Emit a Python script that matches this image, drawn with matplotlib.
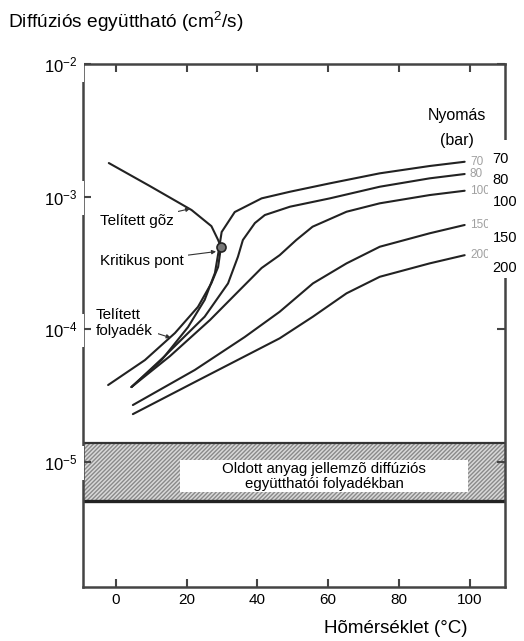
import matplotlib
matplotlib.use("Agg")
import matplotlib.pyplot as plt
from matplotlib.ticker import FixedLocator, NullLocator, LogFormatterSciNotation
from matplotlib.patches import Rectangle

plt.rcParams["font.family"] = ["Liberation Sans", "DejaVu Sans"]
plt.rcParams["mathtext.default"] = "regular"

# Saturation line of CO2 (temperature in °C, diffusivity in cm^2/s)
vapor_t = [-2.0, 9.6, 21.4, 27.0, 28.9, 29.7]
vapor_d = [1.79e-3, 1.20e-3, 7.91e-4, 5.98e-4, 4.70e-4, 4.16e-4]
liquid_t = [29.7, 28.9, 27.0, 23.2, 16.7, 8.2, -2.2]
liquid_d = [4.16e-4, 2.94e-4, 2.22e-4, 1.47e-4, 9.33e-5, 5.83e-5, 3.78e-5]
critical_t = 29.7
critical_d = 4.16e-4

# Isobars
p70_t = [4.4, 12.9, 20.4, 25.1, 28.0, 29.1, 29.9, 33.6, 41.2, 49.2, 60.5, 74.6, 88.7, 98.6]
p70_d = [3.65e-5, 5.83e-5, 1.035e-4, 1.66e-4, 2.65e-4, 3.95e-4, 5.40e-4, 7.64e-4,
         9.69e-4, 1.087e-3, 1.258e-3, 1.497e-3, 1.70e-3, 1.83e-3]
p80_t = [4.4, 13.8, 25.1, 31.7, 34.5, 35.9, 39.3, 42.1, 49.2, 60.5, 74.6, 88.7, 98.6]
p80_d = [3.65e-5, 6.25e-5, 1.24e-4, 2.21e-4, 3.51e-4, 4.70e-4, 6.31e-4, 7.25e-4,
         8.38e-4, 9.69e-4, 1.186e-3, 1.372e-3, 1.479e-3]
p100_t = [4.4, 15.3, 26.6, 35.0, 41.2, 46.3, 51.0, 55.6, 65.2, 74.6, 88.7, 98.6]
p100_d = [3.65e-5, 6.25e-5, 1.17e-4, 1.97e-4, 2.89e-4, 3.61e-4, 4.70e-4, 5.92e-4,
          7.68e-4, 8.89e-4, 1.026e-3, 1.106e-3]
p150_t = [4.8, 22.3, 36.4, 46.3, 55.7, 65.2, 74.6, 88.7, 98.6]
p150_d = [2.67e-5, 4.91e-5, 8.70e-5, 1.35e-4, 2.21e-4, 3.13e-4, 4.18e-4, 5.28e-4, 6.10e-4]
p200_t = [4.8, 22.3, 46.3, 55.7, 65.2, 74.6, 88.7, 98.6]
p200_d = [2.28e-5, 3.98e-5, 8.51e-5, 1.24e-4, 1.86e-4, 2.48e-4, 3.13e-4, 3.61e-4]

pressures = ["70", "80", "100", "150", "200"]
isobars = [(p70_t, p70_d), (p80_t, p80_d), (p100_t, p100_d), (p150_t, p150_d), (p200_t, p200_d)]

# Typical range of solute diffusivities in liquids
liquid_band = (5.04e-6, 1.38e-5)

x_ticks = [0, 20, 40, 60, 80, 100]
y_ticks = [1e-5, 1e-4, 1e-3, 1e-2]

fig = plt.figure(figsize=(5.24, 6.41), dpi=100)
ax = fig.add_axes([0.1584, 0.0842, 0.8053, 0.8159])
ax.set_yscale("log")
ax.set_xlim(-9.3, 110)
ax.set_ylim(1.13e-6, 1e-2)

line_kw = dict(color="#222222", lw=1.5, solid_capstyle="round", solid_joinstyle="round")
ax.plot(vapor_t, vapor_d, **line_kw)
ax.plot(liquid_t, liquid_d, **line_kw)
for t, d in isobars:
    ax.plot(t, d, **line_kw)
ax.plot([critical_t], [critical_d], marker="o", ms=6.5, mfc="#777777", mec="#222222",
        mew=1.2, zorder=4)

# Liquid diffusivity band
ax.axhspan(*liquid_band, facecolor="#d9d9d9", edgecolor="#8a8a8a", hatch="////////",
           lw=0, zorder=1)
ax.axhline(liquid_band[1], color="#333333", lw=1.6, zorder=1.5)
ax.axhline(liquid_band[0], color="#222222", lw=2.4, zorder=1.5)

# Axes styling
for s in ax.spines.values():
    s.set_color("#444444")
    s.set_linewidth(1.8)
ax.xaxis.set_major_locator(FixedLocator(x_ticks))
ax.yaxis.set_major_locator(FixedLocator(y_ticks))
ax.yaxis.set_major_formatter(LogFormatterSciNotation())
ax.yaxis.set_minor_locator(NullLocator())
ax.tick_params(direction="in", length=6, width=1.5, color="#444444",
               top=True, right=True, labelsize=11)
ax.tick_params(axis="y", labelsize=12, pad=4)
ax.tick_params(axis="x", pad=4)
ax.yaxis.set_zorder(3)
for lab in ax.get_yticklabels():
    lab.set_bbox(dict(boxstyle="square,pad=0.4", fc="white", ec="none"))

# Titles
fig.text(0.015, 0.965, "Diffúziós együttható (cm$^2$/s)", fontsize=13.8,
         ha="left", va="center")
fig.text(0.893, 0.02, "Hõmérséklet (°C)", fontsize=13.5, ha="right", va="center")

# Curve annotations
box = dict(boxstyle="square,pad=0.3", fc="white", ec="none")
arrow = dict(arrowstyle="-|>", color="#333333", lw=0.8, shrinkA=0, shrinkB=0,
             mutation_scale=6)
ax.annotate("Telített gõz", xy=(21.0, 8.1e-4), xytext=(5.9, 6.53e-4), fontsize=11,
            ha="center", va="center", bbox=box, zorder=5, arrowprops=arrow)
ax.annotate("Kritikus pont", xy=(critical_t - 0.6, critical_d * 0.93), xytext=(7.3, 3.26e-4),
            fontsize=11, ha="center", va="center", bbox=box, zorder=5,
            arrowprops=dict(arrow, shrinkB=2))
ax.annotate("Telített\nfolyadék", xy=(15.5, 8.6e-5), xytext=(-5.6, 1.11e-4), fontsize=11,
            ha="left", va="center", bbox=box, zorder=5, linespacing=1.15,
            arrowprops=arrow)

# Pressure legend
ax.text(96.3, 4.06e-3, "Nyomás", fontsize=11.5, ha="center", va="center")
ax.text(96.3, 2.67e-3, "(bar)", fontsize=11.5, ha="center", va="center")
for p, (t, d) in zip(pressures, isobars):
    ax.text(t[-1] + 1.5, d[-1], p, fontsize=8.5, color="#a0a0a0",
            ha="left", va="center", zorder=2)
ax.add_patch(Rectangle((0.931, 0.566), 0.066, 0.216, transform=fig.transFigure,
                       fc="white", ec="none", zorder=3.5, clip_on=False))
label_y = [1.92e-3, 1.33e-3, 9.08e-4, 4.86e-4, 2.88e-4]
for p, yy in zip(pressures, label_y):
    ax.text(106.5, yy, p, fontsize=10.5, ha="left", va="center", zorder=6, clip_on=False)

# Band caption
ax.add_patch(Rectangle((0.3435, 0.2325), 0.5496, 0.0499, transform=fig.transFigure,
                       fc="white", ec="none", zorder=3.5))
fig.text(0.619, 0.256, "Oldott anyag jellemzõ diffúziós\negyütthatói folyadékban",
         fontsize=10.8, ha="center", va="center", linespacing=1.1, zorder=6)

fig.savefig("out.png", dpi=100)
